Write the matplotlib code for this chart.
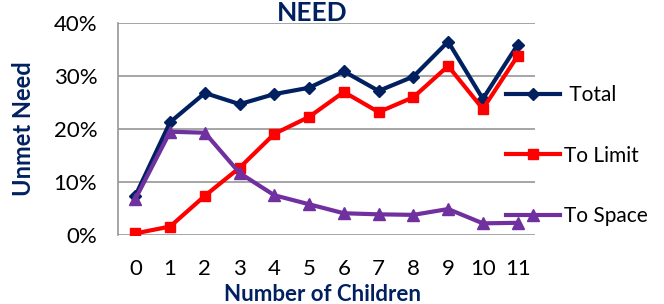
import matplotlib.pyplot as plt

plt.rcParams['font.family'] = ['Lato', 'DejaVu Sans']

# data
children = ['0', '1', '2', '3', '4', '5', '6', '7', '8', '9', '10', '11']
total = [7.4, 21.3, 26.8, 24.7, 26.6, 27.8, 30.9, 27.2, 29.9, 36.5, 25.7, 35.9]
to_limit = [0.3, 1.6, 7.4, 12.7, 19.1, 22.3, 27.0, 23.2, 26.0, 31.9, 23.8, 33.8]
to_space = [6.8, 19.5, 19.3, 11.7, 7.5, 5.8, 4.1, 3.9, 3.8, 4.9, 2.2, 2.3]
yticks = [0, 10, 20, 30, 40]

navy = '#002060'
fig = plt.figure(figsize=(6.64, 3.04), dpi=100)
ax = fig.add_axes([0.1777, 0.227, 0.628, 0.697])

x = range(len(children))
ax.plot(x, total, color=navy, lw=3, marker='D', ms=6, label=' Total')
ax.plot(x, to_limit, color='#FF0000', lw=3, marker='s', ms=7, label='To Limit')
ax.plot(x, to_space, color='#7030A0', lw=3, marker='^', ms=8, label='To Space')

ax.set_xlim(-0.5, len(children) - 0.5)
ax.set_ylim(0, 40)
ax.set_yticks(yticks)
ax.set_yticklabels([f'{v}%' for v in yticks])
ax.set_xticks(list(x))
ax.set_xticklabels(children)
ax.tick_params(length=0, labelsize=16)
ax.tick_params(axis='y', pad=15)
ax.tick_params(axis='x', pad=17)
ax.grid(axis='y', color='#969696', lw=1.2)
ax.set_axisbelow(True)
for s in ['top', 'right', 'bottom']:
    ax.spines[s].set_visible(False)
ax.spines['left'].set_color('#969696')
ax.spines['left'].set_linewidth(1.2)

ax.set_ylabel('Unmet Need', fontsize=17, fontweight='bold', color=navy, labelpad=0)
ax.yaxis.set_label_coords(-0.2, 0.5)
ax.set_xlabel('Number of Children', fontsize=16, fontweight='bold', color=navy)
ax.xaxis.set_label_coords(0.49, -0.23)
fig.text(0.47, 0.997, 'NEED', ha='center', va='top', fontsize=19,
         fontweight='bold', color=navy)

ax.legend(loc='center left', bbox_to_anchor=(0.93, 0.375), frameon=False,
          fontsize=15, handlelength=2.6, handletextpad=0.2, labelspacing=1.95,
          borderaxespad=0, borderpad=0)

fig.savefig('out.png', dpi=100)
